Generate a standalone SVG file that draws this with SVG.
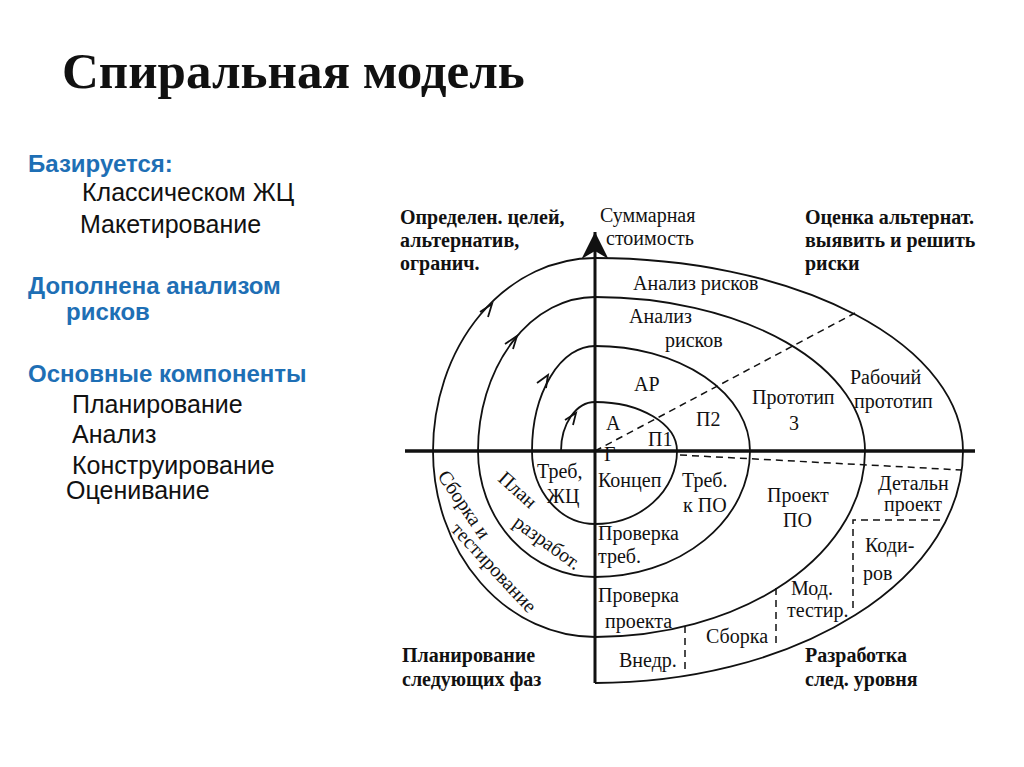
<svg xmlns="http://www.w3.org/2000/svg" width="1024" height="767" viewBox="0 0 1024 767">
<style>
.t{font-family:"Liberation Serif",serif;font-size:20px;fill:#111}
.b{font-family:"Liberation Serif",serif;font-size:20px;font-weight:bold;fill:#111}
.l{font-family:"Liberation Sans",Arial,sans-serif;font-size:25px;fill:#111}
.h{font-family:"Liberation Sans",Arial,sans-serif;font-size:24px;font-weight:bold;fill:#1e6fb5}
.ln{fill:none;stroke:#111;stroke-width:1.8}
.d{fill:none;stroke:#111;stroke-width:1.5;stroke-dasharray:7 5}
</style>
<defs>
<marker id="ar" viewBox="0 0 10 10" refX="10" refY="5" markerWidth="9" markerHeight="9" orient="auto"><path d="M0,0 L10,5 L0,10 L3,5 Z" fill="#111"/></marker>
</defs>
<rect width="1024" height="767" fill="#fff"/>
<text x="62" y="88" font-family="Liberation Serif,serif" font-size="51" font-weight="bold" fill="#111">Спиральная модель</text>
<g id="left">
<text class="h" x="28" y="172">Базируется:</text>
<text class="l" x="82" y="201">Классическом ЖЦ</text>
<text class="l" x="80" y="233">Макетирование</text>
<text class="h" x="28" y="294">Дополнена анализом</text>
<text class="h" x="66" y="320">рисков</text>
<text class="h" x="28" y="382">Основные компоненты</text>
<text class="l" x="72" y="413">Планирование</text>
<text class="l" x="72" y="443">Анализ</text>
<text class="l" x="72" y="474">Конструирование</text>
<text class="l" x="66" y="499">Оценивание</text>
</g>
<g id="connectors">
<line x1="405" y1="451" x2="975" y2="451" stroke="#111" stroke-width="3.5"/>
<line x1="595" y1="683" x2="595" y2="232" stroke="#111" stroke-width="3" marker-end="url(#ar)"/>
<path class="ln" d="M561 451 A34 49 0 0 1 595 402 A82 49 0 0 1 677 451 A82 73 0 0 1 595 524 A63 73 0 0 1 532 451 A63 105 0 0 1 595 346 A155 105 0 0 1 750 451 A155 126 0 0 1 595 577 A117 126 0 0 1 478 451 A117 154 0 0 1 595 297 A270 154 0 0 1 865 451 A270 186 0 0 1 595 637 A162 186 0 0 1 433 451 A162 193 0 0 1 595 258 A368 193 0 0 1 963 451 A368 232 0 0 1 595 683"/>
<path class="ln" stroke-width="2" d="M565 420 L576 413 L573 425 M537 383 L548 375 L546 388 M505 344 L517 336 L513 349 M480 312 L492 304 L488 317"/>
<line class="d" x1="595" y1="451" x2="855" y2="313"/>
<line class="d" x1="680" y1="455" x2="962" y2="470"/>
<path class="d" d="M853 608 L853 520 L943 520"/>
<line class="d" x1="776" y1="588" x2="776" y2="645"/>
<line class="d" x1="685" y1="626" x2="685" y2="672"/>
</g>
<g id="labels">
<text class="b" x="400" y="224">Определен. целей,</text>
<text class="b" x="400" y="247">альтернатив,</text>
<text class="b" x="400" y="270">огранич.</text>
<text class="t" x="600" y="222">Суммарная</text>
<text class="t" x="606" y="245">стоимость</text>
<text class="b" x="805" y="224">Оценка альтернат.</text>
<text class="b" x="805" y="247">выявить и решить</text>
<text class="b" x="805" y="270">риски</text>
<text class="t" x="633" y="290">Анализ рисков</text>
<text class="t" x="629" y="323">Анализ</text>
<text class="t" x="665" y="347">рисков</text>
<text class="t" x="634" y="391">АР</text>
<text class="t" x="752" y="404">Прототип</text>
<text class="t" x="789" y="430">3</text>
<text class="t" x="850" y="384">Рабочий</text>
<text class="t" x="854" y="408">прототип</text>
<text class="t" x="606" y="430">А</text>
<text class="t" x="604" y="461" font-size="14">Г</text>
<text class="t" x="648" y="446">П1</text>
<text class="t" x="696" y="426">П2</text>
<text class="t" x="537" y="478">Треб,</text>
<text class="t" x="547" y="503">ЖЦ</text>
<text class="t" x="598" y="487">Концеп</text>
<text class="t" x="682" y="487">Треб.</text>
<text class="t" x="683" y="512">к ПО</text>
<text class="t" x="598" y="540">Проверка</text>
<text class="t" x="598" y="563">треб.</text>
<text class="t" x="598" y="602">Проверка</text>
<text class="t" x="605" y="628">проекта</text>
<text class="t" x="619" y="667">Внедр.</text>
<text class="t" x="706" y="643">Сборка</text>
<text class="t" x="791" y="595">Мод.</text>
<text class="t" x="787" y="617">тестир.</text>
<text class="t" x="767" y="502">Проект</text>
<text class="t" x="783" y="527">ПО</text>
<text class="t" x="878" y="490">Детальн</text>
<text class="t" x="884" y="511">проект</text>
<text class="t" x="865" y="552">Коди-</text>
<text class="t" x="863" y="580">ров</text>
<text class="t" transform="translate(497,480) rotate(42)">План</text>
<text class="t" transform="translate(512,525) rotate(36)">разработ.</text>
<text class="t" transform="translate(437,476) rotate(56)">Сборка и</text>
<text class="t" transform="translate(450,530) rotate(47)">тестирование</text>
<text class="b" x="402" y="662">Планирование</text>
<text class="b" x="402" y="686">следующих фаз</text>
<text class="b" x="805" y="662">Разработка</text>
<text class="b" x="805" y="686">след. уровня</text>
</g>
</svg>
